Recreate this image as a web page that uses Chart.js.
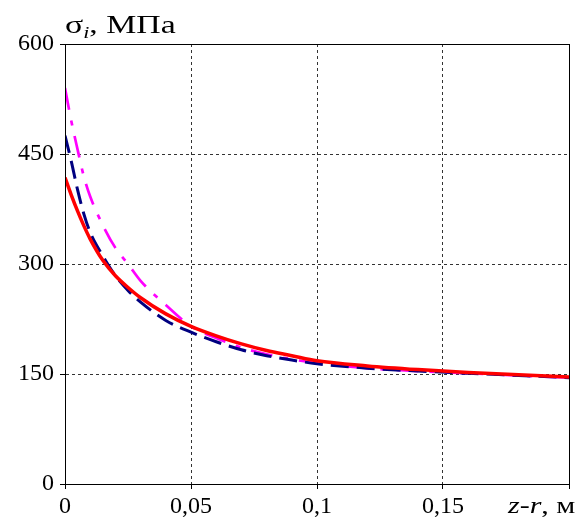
<!DOCTYPE html>
<html>
<head>
<meta charset="utf-8">
<script src="https://cdn.jsdelivr.net/npm/chart.js@4"></script>
<style>
  body { margin: 0; background: #fff; }
  #chart { display: block; }
</style>
</head>
<body>
<canvas id="chart" width="586" height="518"></canvas>
<script>
// distance z-r, m
const zr = [0, 0.0025, 0.005, 0.0075, 0.01, 0.015, 0.02, 0.025, 0.03, 0.04, 0.05, 0.06, 0.07, 0.08, 0.09, 0.1, 0.12, 0.14, 0.16, 0.18, 0.2];
// stress curves, MPa
const redCurve = [418, 394, 372, 352, 334, 305, 284, 268, 254, 232, 215, 202, 191, 182, 175, 168, 161, 156, 152, 149, 146];
const navyCurve = [475, 440, 401, 368, 343, 311, 284, 264, 248, 223, 207, 194, 183, 175, 169, 164, 158, 154, 151, 148, 145];
const magentaCurve = [540, 495, 456, 419, 392, 353, 322, 300, 277, 244, 215, 199, 186, 177, 170, 165, 158, 154, 151, 148, 145];
const xTicks = [0, 0.05, 0.1, 0.15, 0.2];
const yTicks = [0, 150, 300, 450, 600];

const serif = '"Liberation Serif", "DejaVu Serif", serif';

function points(values) {
    return zr.map((x, i) => ({ x: x, y: values[i] }));
}

function fmt(v) {
    return String(Math.round(v * 100) / 100).replace('.', ',');
}

// writes pieces of text one after another, stretched a bit sideways
function writeParts(ctx, x, y, parts, stretch) {
    ctx.save();
    ctx.translate(x, y);
    ctx.scale(stretch, 1);
    let pos = 0;
    for (const p of parts) {
        ctx.font = p.font;
        ctx.fillText(p.text, pos, p.dy || 0);
        pos += ctx.measureText(p.text).width;
    }
    ctx.restore();
}

// frame around the plot and the axis captions
const decorPlugin = {
    id: 'decor',
    afterDraw(chart) {
        const ctx = chart.ctx;
        const a = chart.chartArea;
        ctx.save();
        ctx.strokeStyle = '#000';
        ctx.lineWidth = 1;
        ctx.strokeRect(a.left + 0.5, a.top + 0.5, a.right - a.left, a.bottom - a.top);

        ctx.fillStyle = '#000';
        ctx.textBaseline = 'alphabetic';
        writeParts(ctx, 65, 33, [
            { text: 'σ', font: '26px ' + serif },
            { text: 'i', font: 'italic 17px ' + serif, dy: 5 },
            { text: ', МПа', font: '26px ' + serif }
        ], 1.3);
        writeParts(ctx, 508, 513, [
            { text: 'z-r', font: 'italic 24px ' + serif },
            { text: ', м', font: '24px ' + serif }
        ], 1.25);
        ctx.restore();
    }
};

new Chart(document.getElementById('chart'), {
    type: 'line',
    data: {
        datasets: [{
            data: points(redCurve),
            borderColor: '#ff0000',
            borderWidth: 3.5,
            pointRadius: 0,
            cubicInterpolationMode: 'monotone'
        }, {
            data: points(navyCurve),
            borderColor: '#000080',
            borderWidth: 3,
            borderDash: [18, 8],
            pointRadius: 0,
            cubicInterpolationMode: 'monotone'
        }, {
            data: points(magentaCurve),
            borderColor: '#ff00ff',
            borderWidth: 2.7,
            borderDash: [22, 11, 5, 11],
            pointRadius: 0,
            cubicInterpolationMode: 'monotone'
        }]
    },
    options: {
        responsive: false,
        animation: false,
        layout: { padding: { top: 44, right: 17, left: 0, bottom: 0 } },
        plugins: { legend: { display: false }, tooltip: { enabled: false } },
        scales: {
            x: {
                type: 'linear',
                min: 0,
                max: 0.2,
                afterBuildTicks: (axis) => { axis.ticks = xTicks.map(v => ({ value: v })); },
                afterFit: (axis) => { axis.height = 34; },
                grid: {
                    color: '#333',
                    lineWidth: 1,
                    tickLength: 5,
                    tickColor: '#000',
                    tickBorderDash: []
                },
                border: { color: '#000', dash: [3, 3] },
                ticks: {
                    color: '#000',
                    font: { family: serif, size: 24 },
                    padding: 3,
                    maxRotation: 0,
                    callback: (v) => v >= 0.2 ? '' : fmt(v)
                }
            },
            y: {
                min: 0,
                max: 600,
                afterBuildTicks: (axis) => { axis.ticks = yTicks.map(v => ({ value: v })); },
                afterFit: (axis) => { axis.width = 65; },
                grid: {
                    color: '#333',
                    lineWidth: 1,
                    tickLength: 5,
                    tickColor: '#000',
                    tickBorderDash: []
                },
                border: { color: '#000', dash: [3, 3] },
                ticks: {
                    color: '#000',
                    font: { family: serif, size: 24 },
                    padding: 6
                }
            }
        }
    },
    plugins: [decorPlugin]
});
</script>
</body>
</html>
